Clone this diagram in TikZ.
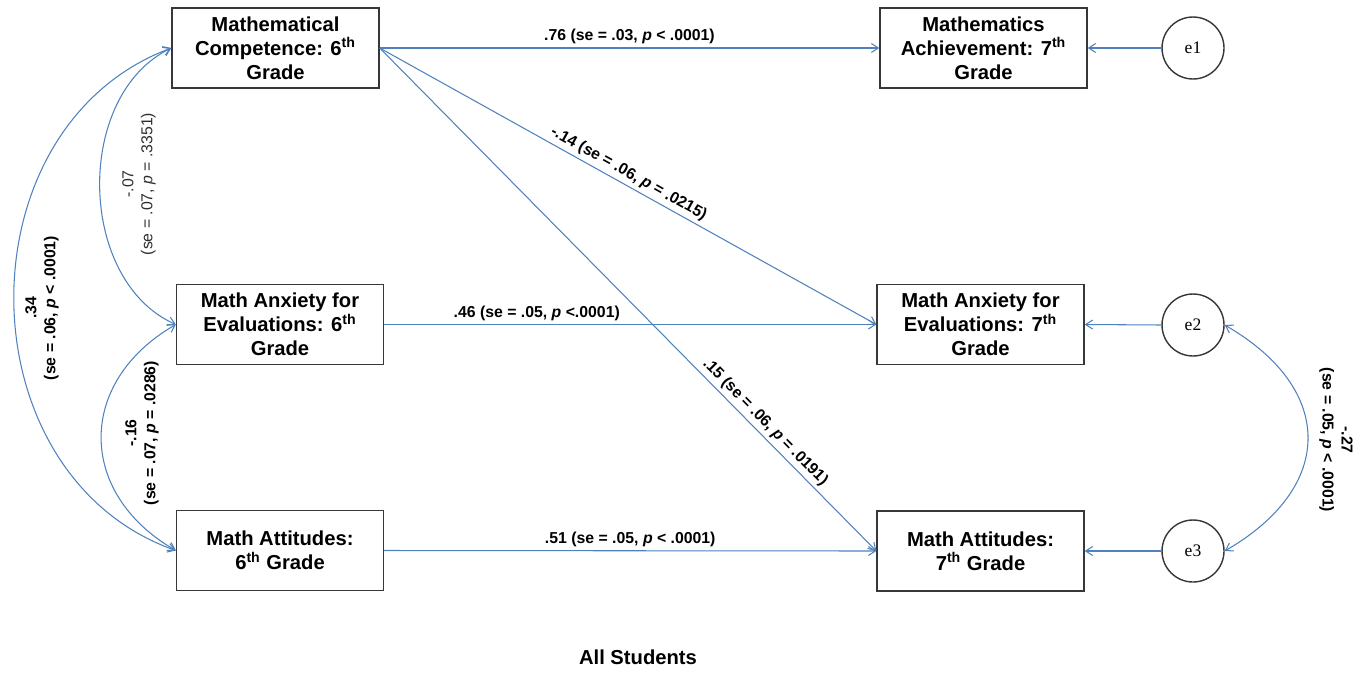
\documentclass[tikz,border=0pt]{standalone}
\usepackage{fontspec}
\setmainfont{Liberation Sans}
\newfontfamily\errfont{Liberation Serif}
\usetikzlibrary{arrows.meta}
\definecolor{pathblue}{RGB}{79,129,189}
\definecolor{boxgray}{RGB}{55,55,55}
\definecolor{faintgray}{RGB}{45,45,45}

\begin{document}
\begin{tikzpicture}[x=0.02cm, y=-0.02cm, line width=0.6pt,
  >={Straight Barb[length=1.4mm,width=1.8mm]},
  var/.style={draw=boxgray, line width=0.8pt, minimum width=4.14cm, minimum height=1.6cm,
    inner sep=0pt, align=center, font=\bfseries\fontsize{11.5}{13.6}\selectfont},
  err/.style={circle, draw=boxgray, line width=0.8pt, minimum size=1.24cm, inner sep=0pt,
    font=\errfont\fontsize{10}{12}\selectfont},
  reg/.style={->, draw=pathblue},
  cov/.style={<->, draw=pathblue},
  coef/.style={font=\bfseries\fontsize{9}{10.8}\selectfont, inner sep=2pt, align=center}]
  \useasboundingbox (0,0) rectangle (1368,673);
  % --- variables, 6th grade (left) and 7th grade (right) ---
  \node[var] (comp6) at (275.5,48) {Mathematical\\Competence: 6\textsuperscript{th}\\Grade};
  \node[var] (anx6) at (280,324.5) {Math Anxiety for\\Evaluations: 6\textsuperscript{th}\\Grade};
  \node[var] (att6) at (280,550.5) {Math Attitudes:\\6\textsuperscript{th} Grade};
  \node[var] (ach7) at (983.5,48) {Mathematics\\Achievement: 7\textsuperscript{th}\\Grade};
  \node[var] (anx7) at (980.5,324.5) {Math Anxiety for\\Evaluations: 7\textsuperscript{th}\\Grade};
  \node[var] (att7) at (980.5,551) {Math Attitudes:\\7\textsuperscript{th} Grade};
  % --- residuals ---
  \foreach \k/\y in {1/48,2/325,3/551} { \node[err] (e\k) at (1193,\y) {e\k}; }
  \foreach \k/\t in {1/ach7,2/anx7,3/att7} { \draw[reg] (e\k.west) -- (\t.east); }
  % --- paths ---
  \draw[reg] (comp6.east) -- node[coef, above] {.76 (se = .03, \textit{p} < .0001)} (ach7.west);
  \draw[reg] (comp6.east) -- node[coef, above, sloped, pos=0.49] {-.14 (se = .06, \textit{p} = .0215)} (anx7.west);
  \draw[reg] (comp6.east) -- node[coef, above, sloped, pos=0.76] {.15 (se = .06, \textit{p} = .0191)} (att7.west);
  \draw[reg] (anx6.east) -- node[coef, above, pos=0.31] {.46 (se = .05, \textit{p} <.0001)} (anx7.west);
  \draw[reg] (att6.east) -- node[coef, above] {.51 (se = .05, \textit{p} < .0001)} (att7.west);
  % --- covariances ---
  \draw[cov] (comp6.west) to[bend right=65] (anx6.west);
  \draw[cov] (anx6.west) to[bend right=60, looseness=1.3] (att6.west);
  \draw[cov] (comp6.west) to[bend right=70, looseness=1.15] (att6.west);
  \draw[cov] (e2.east) to[bend left=60, looseness=1.45] (e3.east);
  % etiquetas de covarianza
  \node[coef, rotate=90, font=\fontsize{9}{10.8}\selectfont, text=faintgray] (r07) at (139,184)
    {-.07\\(se = .07, \textit{p} = .3351)};
  \node[coef, rotate=90] (r16) at (142,433) {-.16\\(se = .07, \textit{p} = .0286)};
  \node[coef, rotate=90] (r34) at (42,308) {.34\\(se = .06, \textit{p} < .0001)};
  \node[coef, rotate=-90] (r27) at (1336,440) {-.27\\(se = .05, \textit{p} < .0001)};
  \node[font=\bfseries\fontsize{11.5}{13.6}\selectfont] (title) at (638,657) {All Students};
\end{tikzpicture}
\end{document}
